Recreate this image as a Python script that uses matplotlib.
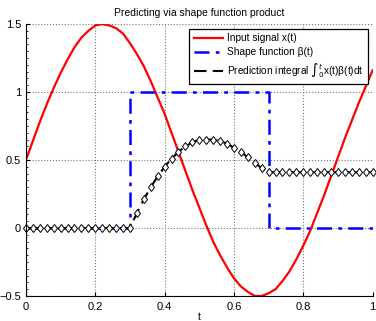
import matplotlib.pyplot as plt
import numpy as np
from matplotlib.ticker import MultipleLocator

plt.rcParams['font.family'] = ['Liberation Sans', 'DejaVu Sans']

# data
t = np.round(np.arange(0, 1.0001, 0.02), 2)
x_signal = [0.50, 0.64, 0.78, 0.91, 1.03, 1.14, 1.24, 1.33, 1.40, 1.45,
            1.49, 1.50, 1.49, 1.47, 1.43, 1.36, 1.28, 1.19, 1.08, 0.96,
            0.84, 0.70, 0.56, 0.42, 0.28, 0.15, 0.02, -0.10, -0.20, -0.29,
            -0.37, -0.43, -0.47, -0.50, -0.50, -0.48, -0.45, -0.39, -0.32, -0.23,
            -0.13, -0.02, 0.11, 0.24, 0.38, 0.52, 0.66, 0.79, 0.92, 1.04,
            1.16]
pred = [0, 0, 0, 0, 0, 0, 0, 0, 0, 0,
        0, 0, 0, 0, 0, 0, 0.11, 0.21, 0.30, 0.38,
        0.45, 0.51, 0.56, 0.60, 0.63, 0.65, 0.65, 0.65, 0.64, 0.62,
        0.59, 0.56, 0.52, 0.48, 0.44, 0.41, 0.41, 0.41, 0.41, 0.41,
        0.41, 0.41, 0.41, 0.41, 0.41, 0.41, 0.41, 0.41, 0.41, 0.41,
        0.41]
beta_t = [0, 0.3, 0.7, 1.0]
beta_v = [0, 1, 0, 0]

fig = plt.figure(figsize=(3.76, 3.21), dpi=100)
ax = fig.add_axes([0.069, 0.078, 0.922, 0.847])

ax.plot(t, x_signal, color='red', lw=1.6, label='Input signal x(t)')
ax.step(beta_t, beta_v, where='post', color='blue', lw=1.8,
        linestyle=(0, (6, 2.5, 1.5, 2.5)), label='Shape function β(t)')
ax.plot(t, pred, color='black', lw=1.5, linestyle=(0, (6, 3)),
        label='Prediction integral \u222b$_0^t$x(t)β(t)dt')
ax.plot(t, pred, linestyle='none', marker='d', ms=4.5, mfc='white',
        mec='black', mew=0.7, clip_on=False)

ax.set_xlim(0, 1)
ax.set_ylim(-0.5, 1.5)
ax.set_xticks([0, 0.2, 0.4, 0.6, 0.8, 1])
ax.set_xticklabels(['0', '0.2', '0.4', '0.6', '0.8', '1'])
ax.set_yticks([-0.5, 0, 0.5, 1, 1.5])
ax.set_yticklabels(['\u22120.5', '0', '0.5', '1', '1.5'])
ax.yaxis.set_minor_locator(MultipleLocator(0.05))
ax.tick_params(direction='in', labelsize=8, length=3, width=0.8)
ax.tick_params(which='minor', direction='in', length=1.5, width=0.6)
ax.tick_params(axis='x', pad=4)
ax.spines['top'].set_visible(False)
ax.spines['right'].set_visible(False)
ax.grid(True, linestyle=':', color='#777777', lw=0.8)

ax.set_title('Predicting via shape function product', fontsize=7.5, pad=6)
ax.set_xlabel('t', fontsize=7.5, labelpad=0)

leg = ax.legend(loc='upper right', fontsize=7.3, fancybox=False,
                edgecolor='black', framealpha=1, handlelength=2.9,
                borderaxespad=0.45, labelspacing=0.4, handletextpad=0.35,
                borderpad=0.45)
leg.get_frame().set_linewidth(0.9)

fig.savefig('out.png', dpi=100)
